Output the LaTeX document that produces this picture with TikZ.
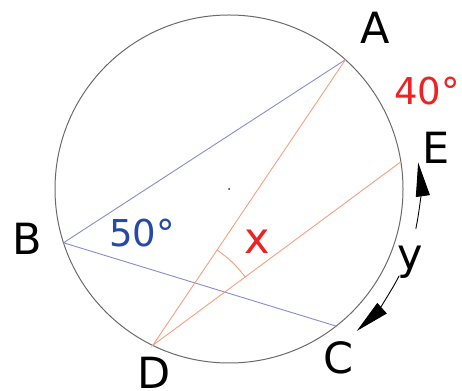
\documentclass[tikz,border=0pt]{standalone}
\usepackage{fontspec}
\setmainfont{DejaVu Sans}
\usetikzlibrary{arrows.meta,angles,calc}
\definecolor{RimGray}{HTML}{6A6A6A}
\definecolor{ChordBlue}{HTML}{8A8AD0}
\definecolor{ChordOrange}{HTML}{F4A080}
\definecolor{TextBlue}{HTML}{2449A8}
\definecolor{TextRed}{HTML}{EE2222}
\begin{document}
\begin{tikzpicture}[x=1pt,y=1pt,
  pt/.style={inner sep=0pt,font=\fontsize{43}{48}\selectfont},
  deg/.style={inner sep=0pt,font=\fontsize{37}{42}\selectfont}]
  \useasboundingbox (0,0) rectangle (462,390);
  \coordinate (O) at (229,201);
  \draw[RimGray,line width=1pt] (O) circle[radius=174];
  \fill[black!80] (O) circle[radius=1];
  \coordinate (A) at ($(O)+(48:174)$);
  \coordinate (E) at ($(O)+(9:174)$);
  \coordinate (C) at ($(O)+(-52:174)$);
  \coordinate (B) at ($(O)+(198:174)$);
  \coordinate (D) at ($(O)+(244:174)$);
  \draw[ChordBlue,line width=0.9pt] (A) -- (B) -- (C);
  \draw[ChordOrange,line width=0.9pt] (A) -- (D) -- (E);
  \pic[draw=ChordOrange,line width=0.9pt,angle radius=115pt] {angle=E--D--A};
  % arc y between E and C
  \draw[line width=0.9pt,-{Triangle[length=34pt,width=14pt]}] ($(O)+(-12:191)$) arc[start angle=-12,end angle=8,radius=191];
  \draw[line width=0.9pt,-{Triangle[length=34pt,width=14pt]}] ($(O)+(-27:191)$) arc[start angle=-27,end angle=-48,radius=191];
  \node[pt] (labA) at (375,362) {A};
  \node[pt] (labB) at (27,151) {B};
  \node[pt] (labC) at (339,32) {C};
  \node[pt] (labD) at (154,17) {D};
  \node[pt] (labE) at (436,242) {E};
  \node[pt] (laby) at (410,128) {y};
  \node[pt,text=TextRed] (labx) at (257,148) {x};
  \node[deg,text=TextRed] (arcAE) at (427,299) {40°};
  \node[deg,text=TextBlue] (angB) at (142,157) {50°};
\end{tikzpicture}
\end{document}
